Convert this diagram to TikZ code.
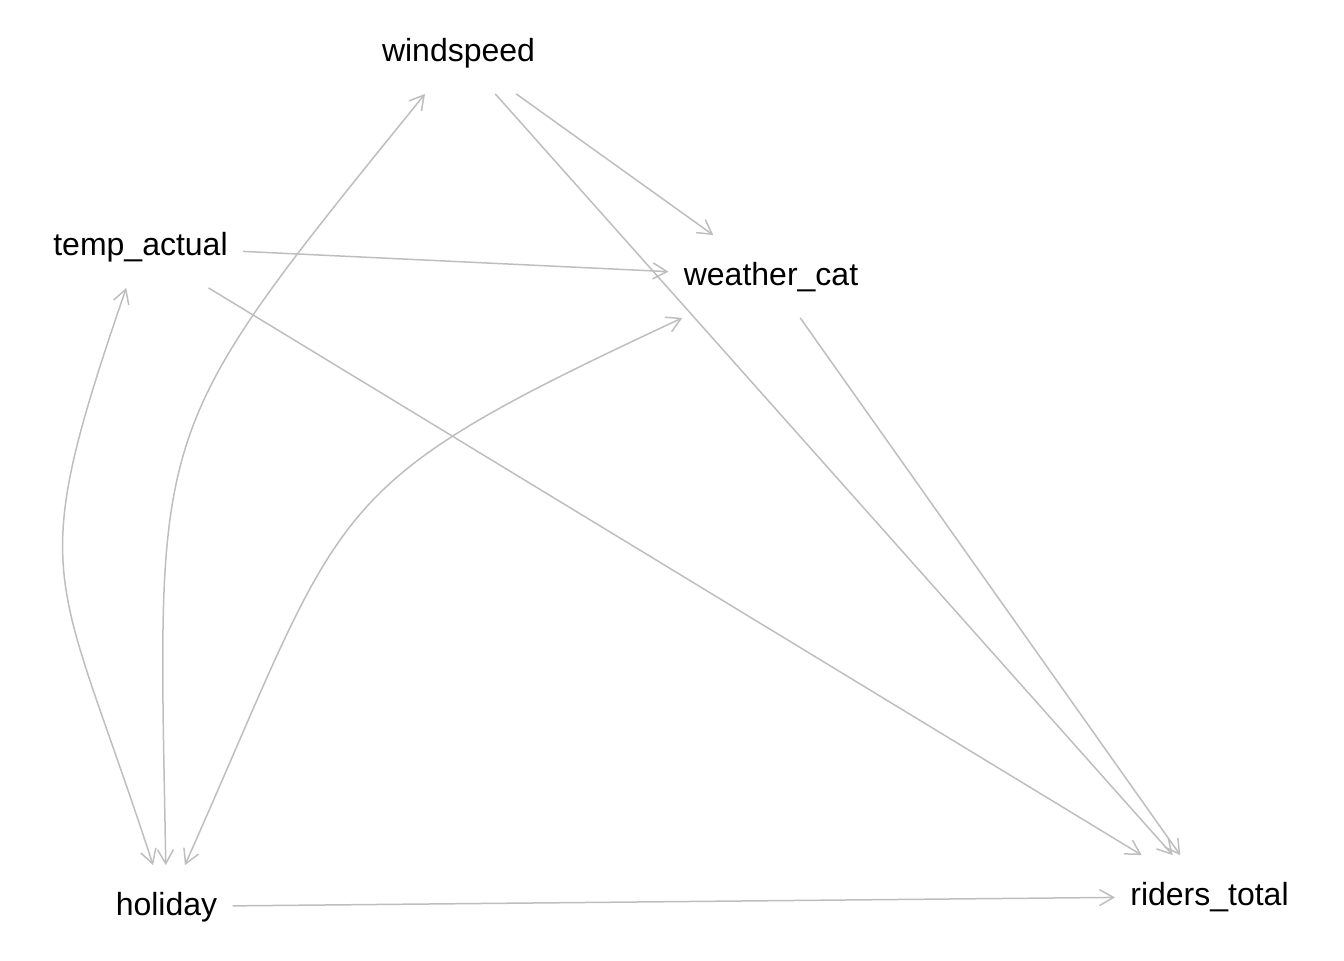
\documentclass[tikz,border=0pt]{standalone}
\usepackage{fontspec}
\setmainfont{Liberation Sans}
\usetikzlibrary{arrows.meta}
\definecolor{edgegray}{RGB}{190,190,190}
\tikzset{
  var/.style={font=\fontsize{16}{19}\selectfont, anchor=base, text height=12pt, text depth=3.5pt,
    inner xsep=7.5pt, inner ysep=12.75pt},
  edge/.style={draw=edgegray, line width=0.75pt,
    -{Straight Barb[length=7pt,width=8pt,line width=0.75pt]}},
  biedge/.style={draw=edgegray, line width=0.75pt, looseness=1.4,
    {Straight Barb[length=7pt,width=8pt,line width=0.75pt]}-{Straight Barb[length=7pt,width=8pt,line width=0.75pt]}}
}
\begin{document}
\begin{tikzpicture}[x=0.5pt,y=-0.5pt]
\useasboundingbox (0,0) rectangle (1344,960);
\node[var] (wind) at (458.5,61) {windspeed};
\node[var] (temp) at (140.5,255) {temp\_actual};
\node[var] (weather) at (771,285) {weather\_cat};
\node[var] (holiday) at (166.5,915) {holiday};
\node[var] (riders) at (1209.5,905) {riders\_total};

\draw[edge] (wind) -- (weather);
\draw[edge] (wind) -- (riders);
\draw[edge] (temp) -- (weather);
\draw[edge] (temp) -- (riders);
\draw[edge] (weather) -- (riders);
\draw[edge] (holiday) -- (riders);

\draw[biedge] (temp) to[out=251,in=108] (holiday);
\draw[biedge] (wind) to[out=231,in=91] (holiday);
\draw[biedge] (weather) to[out=205,in=66] (holiday);
\end{tikzpicture}
\end{document}
